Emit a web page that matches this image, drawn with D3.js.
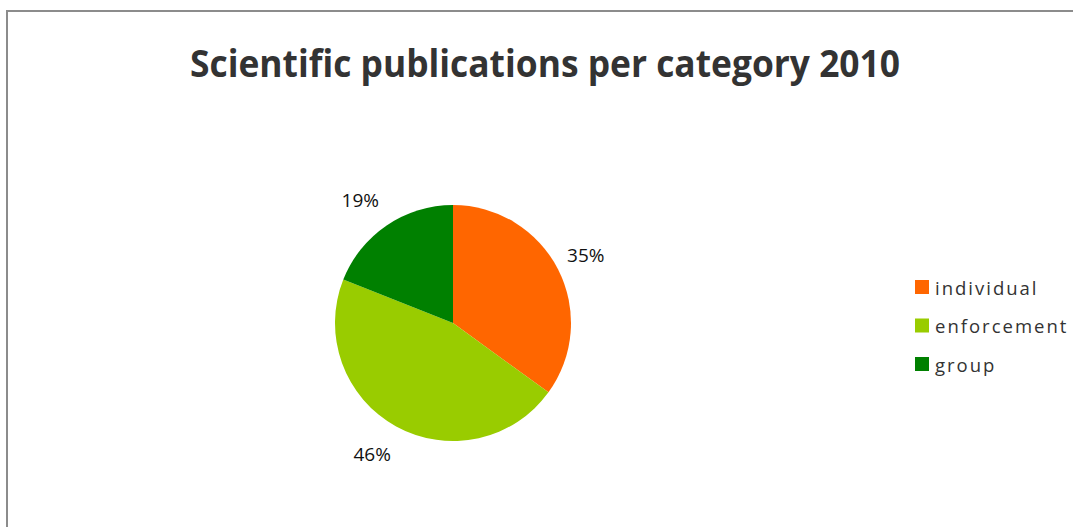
<!DOCTYPE html>
<html>
<head>
<meta charset="utf-8">
<script src="https://cdn.jsdelivr.net/npm/d3@7"></script>
<style>
  body { margin: 0; background: #fff; }
  svg { display: block; }
</style>
</head>
<body>
<div id="chart"></div>
<script>
const categories = ["individual", "enforcement", "group"];
const shares = [35, 46, 19];
const colors = ["#ff6600", "#99cc00", "#008000"];

const width = 1073, height = 527;
const cx = 453, cy = 323, radius = 118;

const svg = d3.select("#chart").append("svg")
    .attr("width", width)
    .attr("height", height);

// chart frame (right and bottom edges run off the page)
svg.append("rect")
    .attr("x", 7).attr("y", 11)
    .attr("width", width + 20).attr("height", height + 20)
    .attr("fill", "#fff")
    .attr("stroke", "#8c8c8c")
    .attr("stroke-width", 2);

svg.append("text")
    .attr("x", 545).attr("y", 77)
    .attr("text-anchor", "middle")
    .attr("font-family", "'Open Sans', sans-serif")
    .attr("font-weight", "bold")
    .attr("font-size", 38)
    .attr("textLength", 710)
    .attr("lengthAdjust", "spacingAndGlyphs")
    .attr("fill", "#333")
    .text("Scientific publications per category 2010");

const data = categories.map((c, i) => ({ name: c, value: shares[i], color: colors[i] }));

const pie = d3.pie().sort(null).value(d => d.value);
const arc = d3.arc().innerRadius(0).outerRadius(radius);
const labelArc = d3.arc().innerRadius(radius + 31).outerRadius(radius + 31);

const g = svg.append("g").attr("transform", `translate(${cx},${cy})`);
const arcs = pie(data);

g.selectAll("path")
    .data(arcs)
    .enter().append("path")
    .attr("d", arc)
    .attr("fill", d => d.data.color);

g.selectAll("text.pct")
    .data(arcs)
    .enter().append("text")
    .attr("class", "pct")
    .attr("transform", d => {
        const [x, y] = labelArc.centroid(d);
        return `translate(${x < 0 ? x - 9 : x},${y})`;
    })
    .attr("text-anchor", "middle")
    .attr("dominant-baseline", "central")
    .attr("font-family", "'Open Sans', sans-serif")
    .attr("font-size", 19)
    .attr("fill", "#111")
    .text(d => d.data.value + "%");

const legend = svg.append("g").attr("transform", "translate(915,287)");
const item = legend.selectAll("g")
    .data(data)
    .enter().append("g")
    .attr("transform", (d, i) => `translate(0,${i * 38.5})`);

item.append("rect")
    .attr("x", 0).attr("y", -7)
    .attr("width", 14).attr("height", 14)
    .attr("fill", d => d.color);

item.append("text")
    .attr("x", 20).attr("y", 0)
    .attr("dominant-baseline", "central")
    .attr("font-family", "'Open Sans', sans-serif")
    .attr("font-size", 18.5)
    .attr("letter-spacing", 2)
    .attr("fill", "#333")
    .text(d => d.name);
</script>
</body>
</html>
